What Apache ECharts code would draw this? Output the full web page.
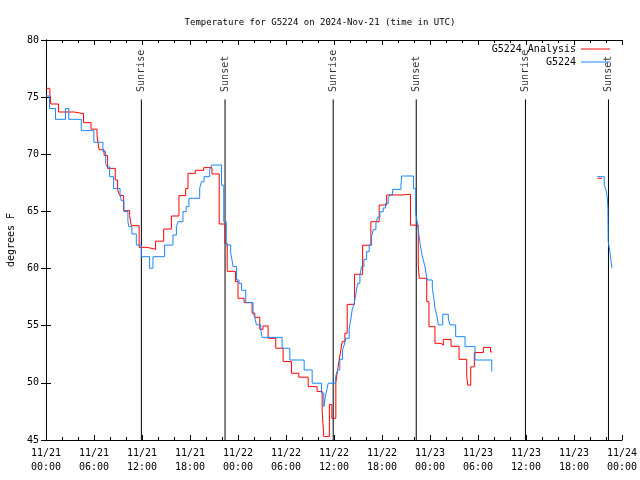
<!DOCTYPE html>
<html>
<head>
<meta charset="utf-8">
<script src="https://cdn.jsdelivr.net/npm/echarts@6/dist/echarts.min.js"></script>
<style>html,body{margin:0;padding:0;background:#fff}#c{width:640px;height:480px}</style>
</head>
<body>
<div id="c"></div>
<script>
// Hours since 2024-11-21 00:00 UTC, with temperatures (deg F) (step changes)
var analysisHours = [0,0.48,0.60,1.56,3.53,4.69,5.63,6.38,6.63,7.26,7.70,8.66,8.95,9.20,9.70,10.45,10.66,11.64,12.62,13.70,14.71,15.67,16.62,17.46,17.75,18.67,19.71,20.75,21.65,22.38,22.65,23.68,24.00,24.76,25.76,26.10,26.72,27.13,27.76,28.72,29.64,30.69,31.60,32.77,33.89,34.52,34.73,35.42,35.73,36.23,36.45,36.65,36.86,37.02,37.36,37.65,38.57,39.58,40.61,41.65,42.58,44.37,45.56,46.53,46.66,47.59,47.87,48.62,49.38,49.66,50.63,51.63,52.59,52.72,53.09,53.54,54.67,55.57,55.76,55.77,68.94,69.49];
var analysisTemps = [75.77,75.3,74.4,73.7,73.55,72.77,72.2,71.6,70.4,69.9,68.77,67.75,66.9,66.4,65.07,64.65,63.75,61.86,61.69,62.4,63.46,64.6,66.38,67.0,68.33,68.6,68.83,68.28,63.9,62.2,59.76,58.86,57.4,57.02,56.1,55.74,54.69,54.98,53.9,53.03,51.86,50.84,50.5,49.67,49.25,47.5,45.3,48.1,46.9,50.0,51.13,52.0,52.9,53.6,54.34,56.87,59.5,62.04,64.1,65.56,66.44,66.5,63.8,60.3,59.15,57.1,54.92,53.46,53.3,53.8,53.2,52.06,50.54,49.8,51.4,52.65,53.1,52.7,52.7,null,67.9,67.9];
var obsHours = [0,0.44,1.19,2.44,2.85,4.41,5.98,7.11,7.45,7.63,7.95,8.45,9.26,9.41,9.74,10.24,10.36,10.74,11.29,11.92,12.95,13.37,14.83,15.87,16.30,16.50,17.12,17.52,17.87,19.21,19.43,19.75,20.46,20.71,21.93,22.22,22.53,23.09,23.25,23.38,23.81,24.13,24.43,24.97,25.88,26.10,26.31,26.85,27.01,29.51,30.48,32.27,33.27,34.44,34.73,34.92,35.11,35.27,36.20,36.45,36.73,37.07,37.27,37.49,37.90,38.11,38.27,38.52,38.74,38.95,39.24,39.45,39.74,40.08,40.40,40.70,40.90,41.24,41.45,41.74,42.15,42.45,42.78,42.99,43.33,44.37,44.46,45.93,46.21,46.37,46.53,46.75,46.96,47.16,47.37,47.50,47.66,48.29,48.50,48.62,48.84,49.04,49.59,50.29,50.50,51.21,52.38,53.63,55.72,55.76,55.77,68.90,69.78,69.99,70.15,70.24,70.28,70.49,70.61,70.74,70.78];
var obsTemps = [75.1,74.0,73.06,74.0,73.06,72.07,71.05,70.23,69.2,68.9,68.04,67.0,66.5,65.94,65.0,64.1,63.67,63.03,62.06,61.04,60.03,61.04,62.06,62.94,63.67,64.1,64.98,65.42,66.15,67.03,67.6,68.04,68.63,69.06,67.3,64.1,62.06,61.33,60.75,60.17,59.0,58.71,58.1,57.02,56.23,55.7,55.07,54.6,53.98,53.03,52.0,51.13,49.97,49.1,47.92,48.8,49.4,49.97,50.54,51.13,52.06,52.9,53.3,53.9,54.78,55.6,56.38,56.96,57.8,58.71,59.44,60.17,60.8,61.48,62.06,62.79,63.4,63.96,64.5,64.98,65.3,65.71,66.15,66.44,66.93,67.31,68.1,67.0,64.84,64.2,63.4,62.2,61.33,60.75,60.17,59.6,59.0,58.28,57.3,56.52,55.94,55.07,56.0,55.6,55.07,54.04,53.17,52.0,51.13,51.0,null,68.04,67.3,66.9,66.3,65.27,62.35,61.48,60.75,60.03,60.0];
var sunHours = [11.92, 22.38, 35.90, 46.28, 59.93, 70.31];
var sunLabels = ['Sunrise', 'Sunset', 'Sunrise', 'Sunset', 'Sunrise', 'Sunset'];
var sunLineTop = 74.8;
var seriesNames = ['G5224 Analysis', 'G5224'];
var titleText = 'Temperature for G5224 on 2024-Nov-21 (time in UTC)';
var yLabel = 'degrees F';

var FONT = 'DejaVu Sans Mono';
function pairs(hs, vs) { return hs.map(function (h, i) { return [h, vs[i] === null ? '-' : vs[i]]; }); }
var sunLineData = [];
sunHours.forEach(function (h) { sunLineData.push([h, 45], [h, sunLineTop], [h, '-']); });
function xFmt(v) {
  var d = 21 + Math.floor(v / 24), hr = Math.round(v % 24);
  return '11/' + d + '\n' + (hr < 10 ? '0' : '') + hr + ':00';
}
var tickCommon = { show: true, inside: true, length: 5, lineStyle: { color: '#000', width: 1 } };
var chart = echarts.init(document.getElementById('c'), null, { renderer: 'canvas' });
chart.setOption({
  animation: false,
  backgroundColor: '#fff',
  title: { text: titleText, left: 'center', top: 13, textStyle: { fontFamily: FONT, fontSize: 9, fontWeight: 'normal', color: '#000' } },
  legend: {
    data: seriesNames, orient: 'vertical', right: 25, top: 38, align: 'right',
    icon: 'rect', itemWidth: 29, itemHeight: 1, itemGap: 1,
    textStyle: { fontFamily: FONT, fontSize: 10, color: '#000', lineHeight: 12 }
  },
  grid: { left: 46, right: 18, top: 40, bottom: 40, containLabel: false, outerBoundsMode: 'none' },
  xAxis: [{
    type: 'value', min: 0, max: 72, interval: 6, position: 'bottom',
    axisLine: { show: true, lineStyle: { color: '#000', width: 1 } },
    axisTick: tickCommon,
    minorTick: { show: true, splitNumber: 3, length: 3, lineStyle: { color: '#000', width: 1 } },
    splitLine: { show: false }, minorSplitLine: { show: false },
    axisLabel: { formatter: xFmt, fontFamily: FONT, fontSize: 10, color: '#000', lineHeight: 14, margin: 6 }
  }, {
    type: 'value', min: 0, max: 72, interval: 6, position: 'top',
    axisLine: { show: true, lineStyle: { color: '#000', width: 1 } },
    axisTick: tickCommon,
    minorTick: { show: true, splitNumber: 3, length: 3, lineStyle: { color: '#000', width: 1 } },
    splitLine: { show: false }, axisLabel: { show: false }
  }],
  yAxis: [{
    type: 'value', min: 45, max: 80, interval: 5, position: 'left',
    name: yLabel, nameLocation: 'middle', nameGap: 30, nameRotate: 90,
    nameTextStyle: { fontFamily: FONT, fontSize: 10, color: '#000' },
    axisLine: { show: true, lineStyle: { color: '#000', width: 1 } },
    axisTick: tickCommon, splitLine: { show: false },
    axisLabel: { fontFamily: FONT, fontSize: 10, color: '#000', margin: 7 }
  }, {
    type: 'value', min: 45, max: 80, interval: 5, position: 'right',
    axisLine: { show: true, lineStyle: { color: '#000', width: 1 } },
    axisTick: tickCommon, splitLine: { show: false }, axisLabel: { show: false }
  }],
  series: [{
    name: 'sun', type: 'line', data: sunLineData, showSymbol: false, symbol: 'none', silent: true,
    lineStyle: { color: '#000', width: 1 }, connectNulls: false
  }, {
    name: 'sunLabels', type: 'scatter', symbolSize: 1, silent: true,
    itemStyle: { color: 'rgba(0,0,0,0)' },
    data: sunHours.map(function (h, i) { return { value: [h, sunLineTop], name: sunLabels[i] }; }),
    label: { show: true, formatter: '{b}', position: 'top', distance: 7, rotate: 90, align: 'left', verticalAlign: 'middle',
      fontFamily: FONT, fontSize: 10, color: '#000' }
  }, {
    name: seriesNames[0], type: 'line', step: 'end', data: pairs(analysisHours, analysisTemps),
    showSymbol: false, symbol: 'none', connectNulls: false,
    lineStyle: { color: '#ff0000', width: 1 }, itemStyle: { color: '#ff0000' }
  }, {
    name: seriesNames[1], type: 'line', step: 'end', data: pairs(obsHours, obsTemps),
    showSymbol: false, symbol: 'none', connectNulls: false,
    lineStyle: { color: '#1a86ff', width: 1 }, itemStyle: { color: '#1a86ff' }
  }]
});
</script>
</body>
</html>
